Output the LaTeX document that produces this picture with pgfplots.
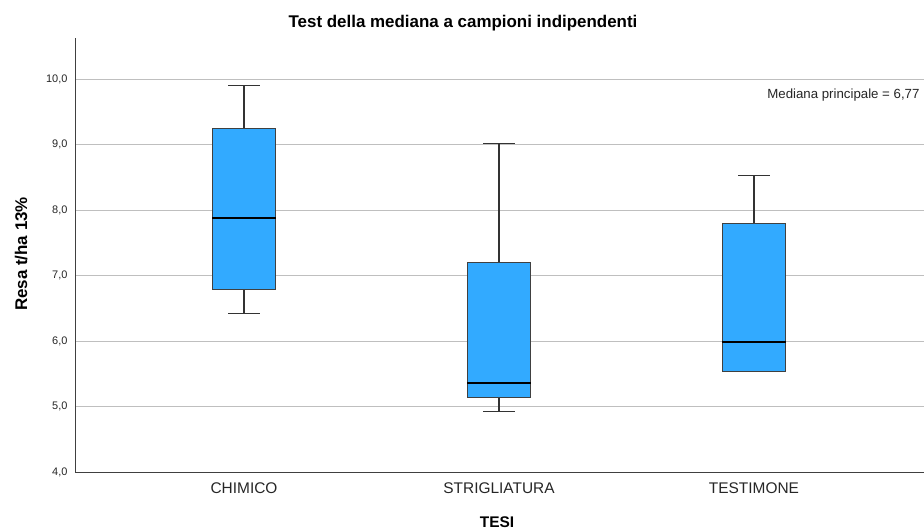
\documentclass[border=0pt]{standalone}
\usepackage{fontspec}
\setmainfont{Liberation Sans}
\usepackage{pgfplots}
\pgfplotsset{compat=1.18}
\definecolor{boxblue}{RGB}{50,170,255}
\begin{document}
\begin{tikzpicture}
\useasboundingbox (0,0) rectangle (924bp,531bp);
\begin{axis}[
  at={(75bp,59bp)}, anchor=south west,
  scale only axis, width=849bp, height=434bp,
  xmin=-0.663, xmax=2.667, ymin=4, ymax=10.63,
  axis lines=left, axis line style={-, draw=black!75, line width=1bp},
  xtick={0,1,2}, xticklabels={CHIMICO,STRIGLIATURA,TESTIMONE},
  ytick={4,5,...,10},
  major tick length=0pt,
  ymajorgrids, grid style={draw=black!25, line width=0.8bp},
  xticklabel style={font=\fontsize{15.5}{18}\selectfont, color=black!85, yshift=-7bp},
  yticklabel style={font=\fontsize{11}{13}\selectfont, color=black!85, xshift=-4bp, /pgf/number format/.cd, fixed, fixed zerofill, precision=1, use comma, assume math mode=true},
  box/.style={fill=boxblue, draw=black!75, line width=1bp},
  whisk/.style={draw=black!80, line width=1.1bp},
  med/.style={draw=black, line width=2.2bp},
]
% ---- CHIMICO (x=0): lw 6.42, lq 6.79, med 7.88, uq 9.25, uw 9.90
\addplot[whisk] coordinates {(0,9.25) (0,9.90)};
\addplot[whisk] coordinates {(-0.0625,9.90) (0.0625,9.90)};
\addplot[whisk] coordinates {(0,6.79) (0,6.42)};
\addplot[whisk] coordinates {(-0.0625,6.42) (0.0625,6.42)};
\addplot[box] coordinates {(-0.125,6.79) (0.125,6.79) (0.125,9.25) (-0.125,9.25)} -- cycle;
\addplot[med] coordinates {(-0.125,7.88) (0.125,7.88)};
% ---- STRIGLIATURA (x=1): lw 4.92, lq 5.14, med 5.36, uq 7.20, uw 9.02
\addplot[whisk] coordinates {(1,7.20) (1,9.02)};
\addplot[whisk] coordinates {(0.9375,9.02) (1.0625,9.02)};
\addplot[whisk] coordinates {(1,5.14) (1,4.92)};
\addplot[whisk] coordinates {(0.9375,4.92) (1.0625,4.92)};
\addplot[box] coordinates {(0.875,5.14) (1.125,5.14) (1.125,7.20) (0.875,7.20)} -- cycle;
\addplot[med] coordinates {(0.875,5.36) (1.125,5.36)};
% ---- TESTIMONE (x=2): lw 5.53, lq 5.53, med 5.98, uq 7.80, uw 8.53
\addplot[whisk] coordinates {(2,7.80) (2,8.53)};
\addplot[whisk] coordinates {(1.9375,8.53) (2.0625,8.53)};
\addplot[box] coordinates {(1.875,5.53) (2.125,5.53) (2.125,7.80) (1.875,7.80)} -- cycle;
\addplot[med] coordinates {(1.875,5.98) (2.125,5.98)};
\end{axis}
\node[anchor=base, font=\bfseries\fontsize{17}{20}\selectfont] at (463bp,503bp) {Test della mediana a campioni indipendenti};
\node[anchor=base, rotate=90, font=\bfseries\fontsize{17}{20}\selectfont] at (27bp,277bp) {Resa t/ha 13\%};
\node[anchor=base, font=\bfseries\fontsize{15.5}{18}\selectfont] at (497bp,3.5bp) {TESI};
\node[anchor=base east, font=\fontsize{13.3}{16}\selectfont, color=black!85] at (923bp,432bp) {Mediana principale = 6,77};
\end{tikzpicture}
\end{document}
